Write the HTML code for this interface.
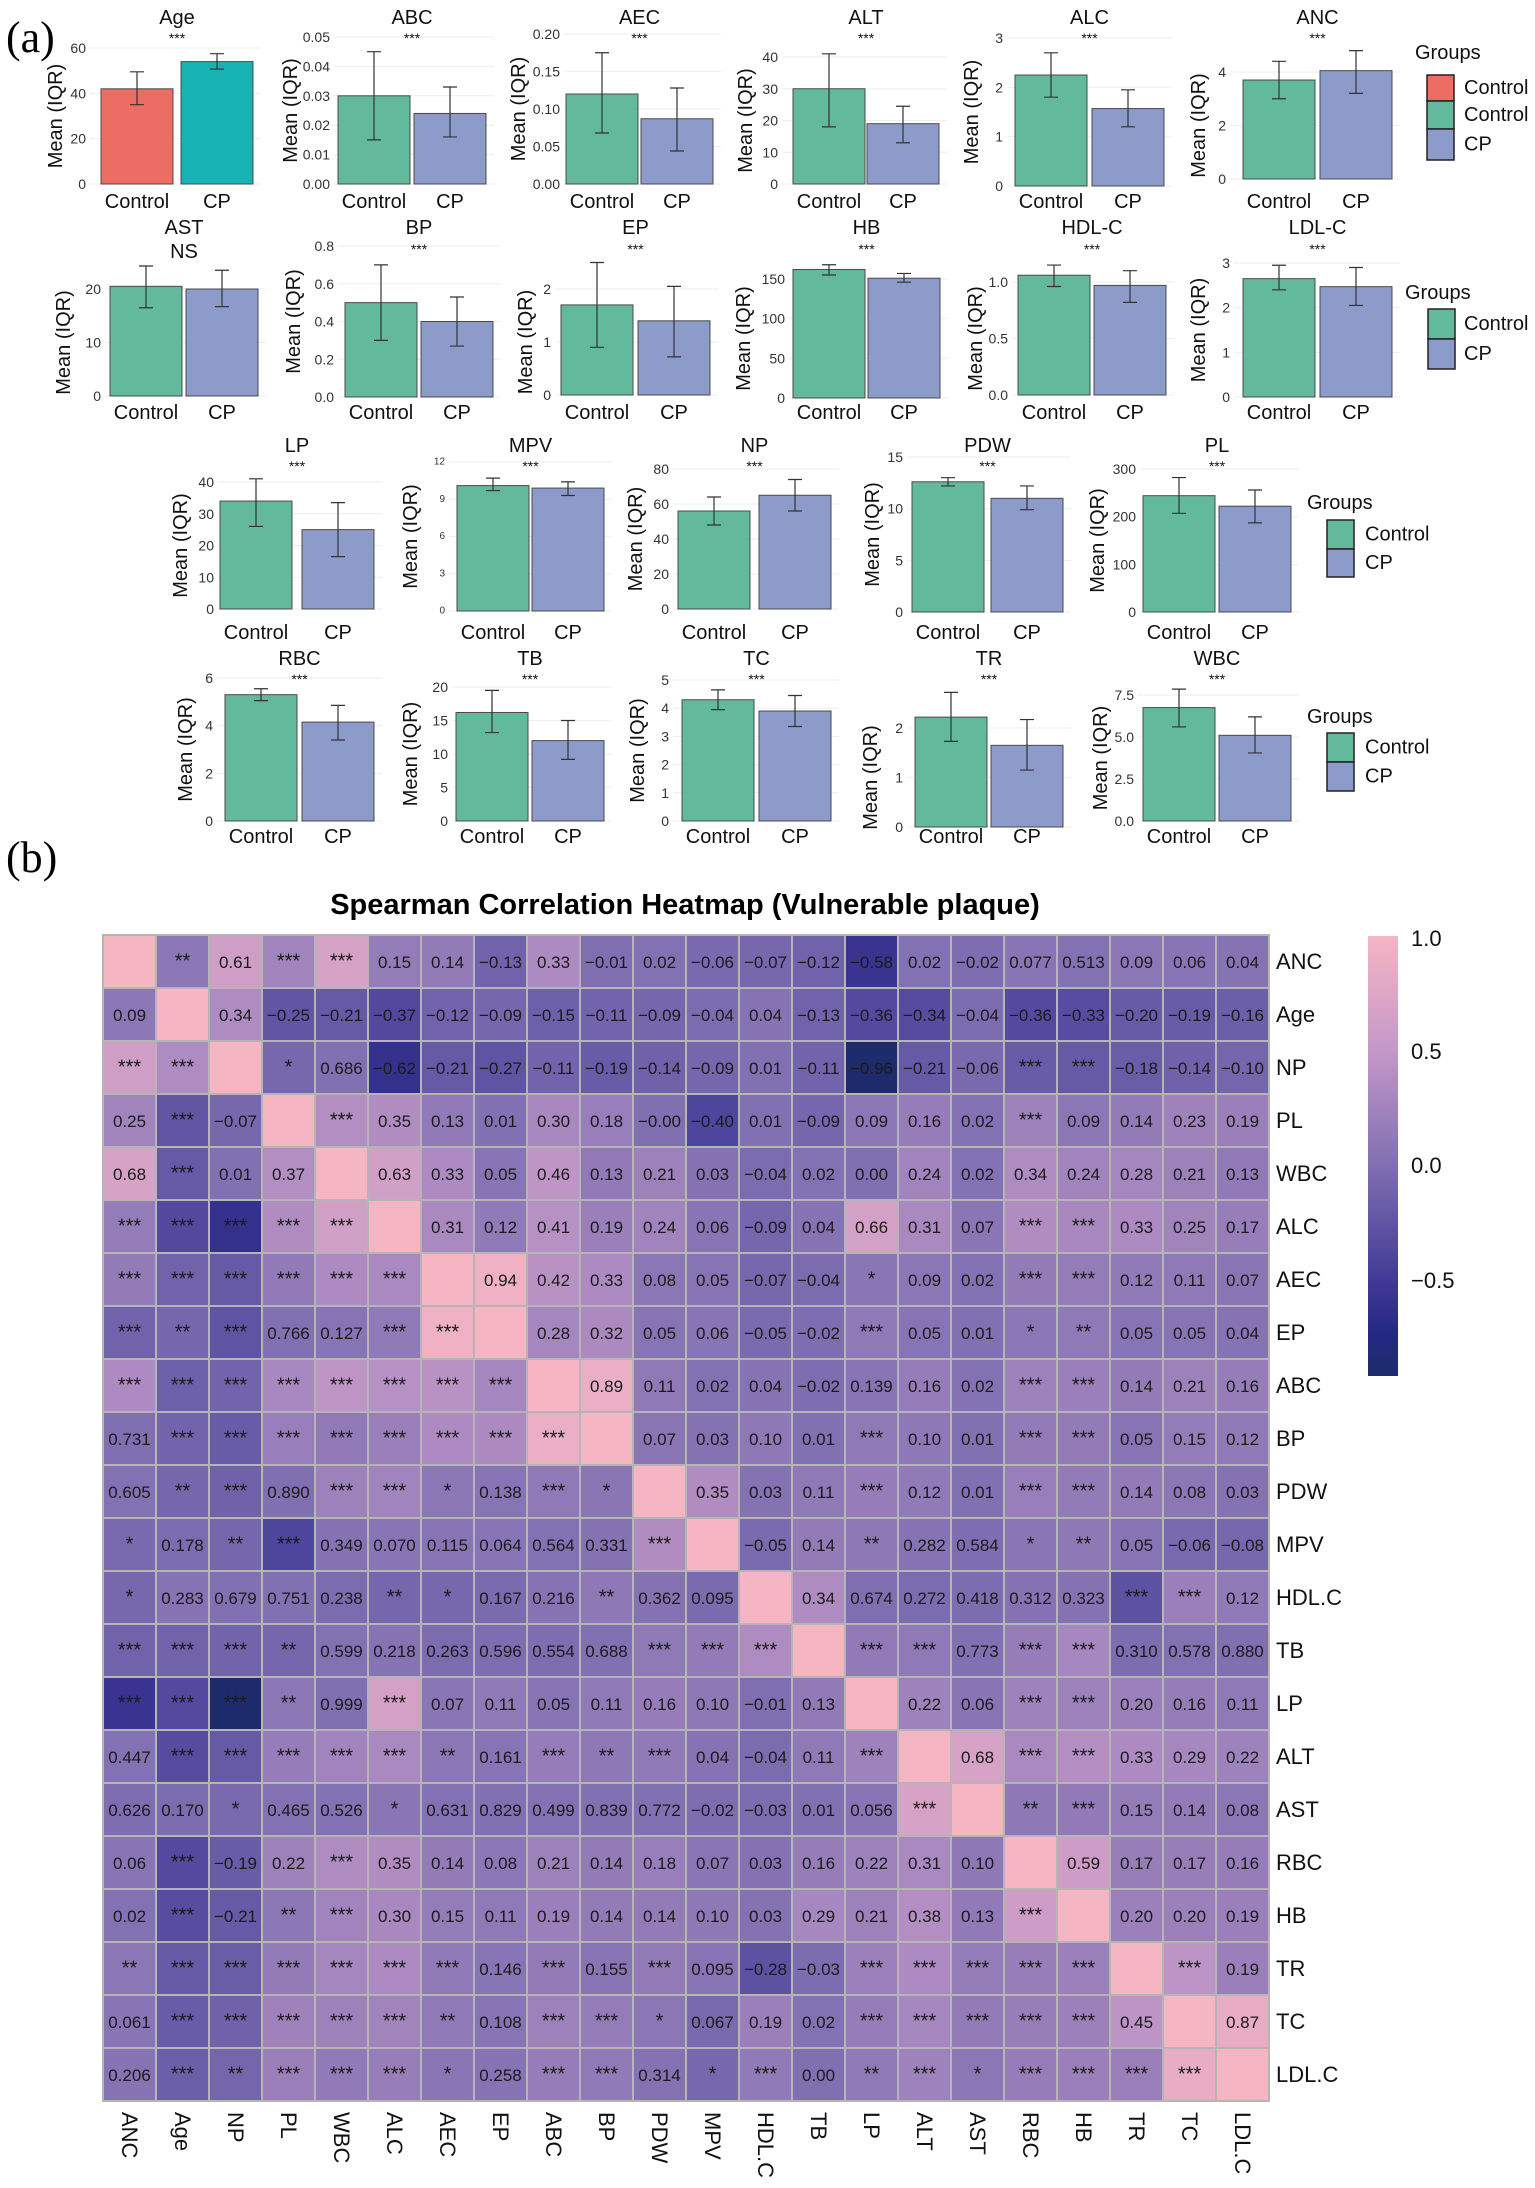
<!DOCTYPE html>
<html><head><meta charset="utf-8"><title>Panels</title>
<style>
html,body{margin:0;padding:0;background:#fff;}
svg{display:block;font-family:"Liberation Sans",Arial,sans-serif;}
</style></head>
<body>
<svg id="fig" width="1535" height="2188" viewBox="0 0 1535 2188" xmlns="http://www.w3.org/2000/svg">
<rect x="0" y="0" width="1535" height="2188" fill="#fff"/>
<text x="6" y="52" font-family="Liberation Serif, serif" font-size="44">(a)</text>
<text x="6" y="872" font-family="Liberation Serif, serif" font-size="44">(b)</text>
<text x="685" y="914" text-anchor="middle" font-weight="bold" font-size="29">Spearman Correlation Heatmap (Vulnerable plaque)</text>
<g id="barPanels"></g>
<g id="legends"></g>
<g id="heat"></g>
<defs>
<linearGradient id="cbGrad" x1="0" y1="0" x2="0" y2="1">
<stop offset="0" stop-color="#f5b5c3"/>
<stop offset="0.26" stop-color="#c498c8"/>
<stop offset="0.52" stop-color="#8070b2"/>
<stop offset="0.78" stop-color="#423a96"/>
<stop offset="0.91" stop-color="#232882"/>
<stop offset="1" stop-color="#1e2c6a"/>
</linearGradient>
</defs>
<rect x="1368" y="936" width="30" height="440" fill="url(#cbGrad)"/>
<g font-size="22" fill="#111">
<text x="1411" y="946">1.0</text>
<text x="1411" y="1059">0.5</text>
<text x="1411" y="1173">0.0</text>
<text x="1411" y="1288">−0.5</text>
</g>
</svg>
<script>
// ---------- Panel (a) data ----------
const panelNames = ["Age","ABC","AEC","ALT","ALC","ANC","AST","BP","EP","HB","HDL-C","LDL-C","LP","MPV","NP","PDW","PL","RBC","TB","TC","TR","WBC"];
const ctrlMeans = [42,0.030,0.12,30,2.25,3.7,20.5,0.50,1.7,162,1.06,2.65,34,10.1,56,12.6,244,5.3,16.2,4.3,2.22,6.75];
const ctrlLo = [35,0.015,0.068,18,1.8,3.0,16.5,0.30,0.9,155,0.96,2.4,26,9.7,48,12.2,207,5.05,13.2,3.95,1.73,5.6];
const ctrlHi = [49.5,0.045,0.175,41,2.7,4.4,24.3,0.70,2.5,168,1.15,2.95,41,10.7,64,13.0,282,5.55,19.5,4.65,2.72,7.85];
const cpMeans = [54,0.024,0.087,19,1.57,4.05,20,0.40,1.4,151,0.97,2.47,25,9.9,65,11.0,222,4.15,12,3.9,1.65,5.1];
const cpLo = [50.7,0.016,0.044,13,1.2,3.2,16.7,0.27,0.72,146,0.82,2.05,16.5,9.3,56,9.9,187,3.4,9.2,3.35,1.15,4.05];
const cpHi = [57.5,0.033,0.128,24.5,1.95,4.8,23.5,0.53,2.05,157,1.1,2.9,33.5,10.4,74,12.2,256,4.85,15,4.45,2.17,6.2];
const sigLabels = ["***","***","***","***","***","***","NS","***","***","***","***","***","***","***","***","***","***","***","***","***","***","***"];
const groupLabels = ["Control","CP"];
const tickLabels = [
 ["0","20","40","60"],["0.00","0.01","0.02","0.03","0.04","0.05"],["0.00","0.05","0.10","0.15","0.20"],
 ["0","10","20","30","40"],["0","1","2","3"],["0","2","4"],
 ["0","10","20"],["0.0","0.2","0.4","0.6","0.8"],["0","1","2"],["0","50","100","150"],["0.0","0.5","1.0"],["0","1","2","3"],
 ["0","10","20","30","40"],["0","3","6","9","12"],["0","20","40","60","80"],["0","5","10","15"],["0","100","200","300"],
 ["0","2","4","6"],["0","5","10","15","20"],["0","1","2","3","4","5"],["0","1","2"],["0.0","2.5","5.0","7.5"]];

// layout (pixel geometry): [ctrlX, cpX, tickRight, yTitleX, y0px, topTickPx, row]
const layout = [
 [101,181,86,56,184,48,0],[338,414,330,291,184,37,0],[566,641,560,519,184,34,0],[793,867,778,746,184,57,0],[1015,1092,1003,972,186,38,0],[1243,1320,1226,1199,179,72,0],
 [110,186,101,64,396,289,1],[345,421,334,294,397,246,1],[561,638,551,526,395,289,1],[793,868,785,744,398,279,1],[1018,1094,1008,976,395,282,1],[1243,1320,1230,1199,397,263,1],
 [220,302,214,181,609,482,2],[457,532,445,411,611,462,2],[678,759,669,636,609,469,2],[912,991,903,873,612,457,2],[1143,1219,1136,1098,612,469,2],
 [225,302,213,186,821,678,3],[456,532,448,411,821,687,3],[682,759,669,638,821,680,3],[915,991,903,871,827,728,3],[1143,1219,1134,1101,821,695,3]];
const rowTitleY = [18,228,446,659];
const rowSigY = [38,249,466,679];
const rowXlabY = [202,413,633,837];
const BW = 72;
const NS = "http://www.w3.org/2000/svg";
function mk(tag, attrs, parent){const e=document.createElementNS(NS,tag);for(const k in attrs)e.setAttribute(k,attrs[k]);parent.appendChild(e);return e;}

const bp = document.getElementById('barPanels');
panelNames.forEach((name,i)=>{
  const L = layout[i];
  const [cx,px,tr,ytx,y0,topPx,row] = L;
  const ticks = tickLabels[i];
  const topVal = parseFloat(ticks[ticks.length-1]);
  const yScale = v => y0 - v/topVal*(y0-topPx);
  const g = mk('g',{},bp);
  
  
  const small = name==="MPV";
  ticks.forEach(t=>{
    const y = yScale(parseFloat(t));
    const gl = mk('line',{x1:tr+4,x2:px+BW+8,y1:y,y2:y,stroke:'#eeeeee','stroke-width':1},g);
    
    
    const tt = mk('text',{x:tr,y:y,'text-anchor':'end','dominant-baseline':'central','font-size':small?10:14,fill:'#333'},g);
    tt.textContent = t;
    
    
  });
  const isAge = i===0;
  const cCol = isAge ? '#ec6d64' : '#62b99b';
  const pCol = isAge ? '#17b3b4' : '#8c9bca';
  const vals = [[ctrlMeans[i],ctrlLo[i],ctrlHi[i],cx,cCol],[cpMeans[i],cpLo[i],cpHi[i],px,pCol]];
  vals.forEach((v,k)=>{
    const [m,lo,hi,x,col] = v;
    const r = mk('rect',{x:x,y:yScale(m),width:BW,height:y0-yScale(m),fill:col,stroke:'#4a4a4a','stroke-width':1},g);
    
    
    const ex = x+BW/2;
    const eb = mk('path',{d:`M${ex-7},${yScale(hi)}H${ex+7}M${ex},${yScale(hi)}V${yScale(lo)}M${ex-7},${yScale(lo)}H${ex+7}`,stroke:'#333','stroke-width':1.2,fill:'none'},g);
    
    
    const xl = mk('text',{x:ex,y:rowXlabY[row],'text-anchor':'middle','dominant-baseline':'central','font-size':20,fill:'#111'},g);
    xl.textContent = groupLabels[k];
    
    
  });
  const midX = (cx+px+BW)/2;
  const ti = mk('text',{x:midX,y:rowTitleY[row],'text-anchor':'middle','dominant-baseline':'central','font-size':20,fill:'#111'},g);
  ti.textContent = name;
  
  
  const sgY = sigLabels[i]==="NS" ? rowSigY[row]+3 : rowSigY[row];
  const sg = mk('text',{x:midX,y:sgY,'text-anchor':'middle','dominant-baseline':'central','font-size':sigLabels[i]==="NS"?20:14,fill:'#111'},g);
  sg.textContent = sigLabels[i];
  
  
  const ymid = (y0+topPx)/2;
  const yt = mk('text',{x:ytx,y:ymid,'text-anchor':'middle','dominant-baseline':'central','font-size':20,fill:'#111',transform:`rotate(-90 ${ytx} ${ymid})`},g);
  yt.textContent = 'Mean (IQR)';
  
  
});

// legends
const lg = document.getElementById('legends');
const legendSpecs = [
 {gx:1415,gy:53,sx:1427,lx:1464,ys:[75,101,129,160],cols:['#ec6d64','#62b99b','#8c9bca'],labs:['Control','Control','CP']},
 {gx:1405,gy:293,sx:1428,lx:1464,ys:[309,339,369],cols:['#62b99b','#8c9bca'],labs:['Control','CP']},
 {gx:1307,gy:503,sx:1327,lx:1365,ys:[520,549,577],cols:['#62b99b','#8c9bca'],labs:['Control','CP']},
 {gx:1307,gy:717,sx:1327,lx:1365,ys:[733,762,791],cols:['#62b99b','#8c9bca'],labs:['Control','CP']}];
legendSpecs.forEach(s=>{
  const g = mk('g',{},lg);
  
  
  const t = mk('text',{x:s.gx,y:s.gy,'dominant-baseline':'central','font-size':20,fill:'#111'},g);
  t.textContent = 'Groups';
  
  
  s.cols.forEach((c,k)=>{
    const r = mk('rect',{x:s.sx,y:s.ys[k],width:27,height:s.ys[k+1]-s.ys[k],fill:c,stroke:'#222','stroke-width':1.5},g);
    
    
    const l = mk('text',{x:s.lx,y:(s.ys[k]+s.ys[k+1])/2,'dominant-baseline':'central','font-size':20,fill:'#111'},g);
    l.textContent = s.labs[k];
    
    
  });
});

// ---------- Panel (b) heatmap data ----------
const varNames = ["ANC","Age","NP","PL","WBC","ALC","AEC","EP","ABC","BP","PDW","MPV","HDL.C","TB","LP","ALT","AST","RBC","HB","TR","TC","LDL.C"];
const rowANC = ["","**","0.61","***","***","0.15","0.14","-0.13","0.33","-0.01","0.02","-0.06","-0.07","-0.12","-0.58","0.02","-0.02","0.077","0.513","0.09","0.06","0.04"];
const rowAge = ["0.09","","0.34","-0.25","-0.21","-0.37","-0.12","-0.09","-0.15","-0.11","-0.09","-0.04","0.04","-0.13","-0.36","-0.34","-0.04","-0.36","-0.33","-0.20","-0.19","-0.16"];
const rowNP = ["***","***","","*","0.686","-0.62","-0.21","-0.27","-0.11","-0.19","-0.14","-0.09","0.01","-0.11","-0.96","-0.21","-0.06","***","***","-0.18","-0.14","-0.10"];
const rowPL = ["0.25","***","-0.07","","***","0.35","0.13","0.01","0.30","0.18","-0.00","-0.40","0.01","-0.09","0.09","0.16","0.02","***","0.09","0.14","0.23","0.19"];
const rowWBC = ["0.68","***","0.01","0.37","","0.63","0.33","0.05","0.46","0.13","0.21","0.03","-0.04","0.02","0.00","0.24","0.02","0.34","0.24","0.28","0.21","0.13"];
const rowALC = ["***","***","***","***","***","","0.31","0.12","0.41","0.19","0.24","0.06","-0.09","0.04","0.66","0.31","0.07","***","***","0.33","0.25","0.17"];
const rowAEC = ["***","***","***","***","***","***","","0.94","0.42","0.33","0.08","0.05","-0.07","-0.04","*","0.09","0.02","***","***","0.12","0.11","0.07"];
const rowEP = ["***","**","***","0.766","0.127","***","***","","0.28","0.32","0.05","0.06","-0.05","-0.02","***","0.05","0.01","*","**","0.05","0.05","0.04"];
const rowABC = ["***","***","***","***","***","***","***","***","","0.89","0.11","0.02","0.04","-0.02","0.139","0.16","0.02","***","***","0.14","0.21","0.16"];
const rowBP = ["0.731","***","***","***","***","***","***","***","***","","0.07","0.03","0.10","0.01","***","0.10","0.01","***","***","0.05","0.15","0.12"];
const rowPDW = ["0.605","**","***","0.890","***","***","*","0.138","***","*","","0.35","0.03","0.11","***","0.12","0.01","***","***","0.14","0.08","0.03"];
const rowMPV = ["*","0.178","**","***","0.349","0.070","0.115","0.064","0.564","0.331","***","","-0.05","0.14","**","0.282","0.584","*","**","0.05","-0.06","-0.08"];
const rowHDL = ["*","0.283","0.679","0.751","0.238","**","*","0.167","0.216","**","0.362","0.095","","0.34","0.674","0.272","0.418","0.312","0.323","***","***","0.12"];
const rowTB = ["***","***","***","**","0.599","0.218","0.263","0.596","0.554","0.688","***","***","***","","***","***","0.773","***","***","0.310","0.578","0.880"];
const rowLP = ["***","***","***","**","0.999","***","0.07","0.11","0.05","0.11","0.16","0.10","-0.01","0.13","","0.22","0.06","***","***","0.20","0.16","0.11"];
const rowALT = ["0.447","***","***","***","***","***","**","0.161","***","**","***","0.04","-0.04","0.11","***","","0.68","***","***","0.33","0.29","0.22"];
const rowAST = ["0.626","0.170","*","0.465","0.526","*","0.631","0.829","0.499","0.839","0.772","-0.02","-0.03","0.01","0.056","***","","**","***","0.15","0.14","0.08"];
const rowRBC = ["0.06","***","-0.19","0.22","***","0.35","0.14","0.08","0.21","0.14","0.18","0.07","0.03","0.16","0.22","0.31","0.10","","0.59","0.17","0.17","0.16"];
const rowHB = ["0.02","***","-0.21","**","***","0.30","0.15","0.11","0.19","0.14","0.14","0.10","0.03","0.29","0.21","0.38","0.13","***","","0.20","0.20","0.19"];
const rowTR = ["**","***","***","***","***","***","***","0.146","***","0.155","***","0.095","-0.28","-0.03","***","***","***","***","***","","***","0.19"];
const rowTC = ["0.061","***","***","***","***","***","**","0.108","***","***","*","0.067","0.19","0.02","***","***","***","***","***","0.45","","0.87"];
const rowLDL = ["0.206","***","**","***","***","***","*","0.258","***","***","0.314","*","***","0.00","**","***","*","***","***","***","***",""];
const cellLabels = [rowANC,rowAge,rowNP,rowPL,rowWBC,rowALC,rowAEC,rowEP,rowABC,rowBP,rowPDW,rowMPV,rowHDL,rowTB,rowLP,rowALT,rowAST,rowRBC,rowHB,rowTR,rowTC,rowLDL];

const HX = 103, HY = 935, CS = 53.0;
function isR(s){ if(!/^-?\d+\.\d+$/.test(s)) return false; return s.split('.')[1].length<=2; }
function rVal(i,j){
  if(i===j) return 1;
  const a = cellLabels[i][j], b = cellLabels[j][i];
  if(isR(a)) return parseFloat(a);
  if(isR(b)) return parseFloat(b);
  return 0;
}
const cStops = [[-1,[28,44,104]],[-0.75,[36,40,132]],[-0.5,[66,58,150]],[0,[128,112,178]],[0.5,[196,152,200]],[1,[245,181,195]]];
function colorFor(v){
  for(let k=0;k<cStops.length-1;k++){
    const [v0,c0]=cStops[k],[v1,c1]=cStops[k+1];
    if(v<=v1){const t=Math.max(0,(v-v0)/(v1-v0));return `rgb(${c0.map((c,q)=>Math.round(c+(c1[q]-c)*t)).join(',')})`;}
  }
  return 'rgb(245,181,195)';
}
const hg = document.getElementById('heat');
for(let i=0;i<varNames.length;i++){
  for(let j=0;j<varNames.length;j++){
    const x = HX + j*CS, y = HY + i*CS;
    const r = mk('rect',{x:x,y:y,width:CS,height:CS,fill:colorFor(rVal(i,j)),stroke:'#b5b5b5','stroke-width':2},hg);
    
    
    const lab = cellLabels[i][j];
    if(lab){
      const star = lab.indexOf('*')>=0;
      const t = mk('text',{x:x+CS/2,y:y+CS/2+(star?0:1),'text-anchor':'middle','dominant-baseline':'central','font-size':star?20:17,fill:'#1a1a1a'},hg);
      t.textContent = lab.replace('-','−');
      
      
    }
  }
  const rl = mk('text',{x:1276,y:HY+i*CS+CS/2,'dominant-baseline':'central','font-size':22,fill:'#111'},hg);
  rl.textContent = varNames[i];
  
  
  const cx = HX+i*CS+CS/2, cy = 2112;
  const cl = mk('text',{x:cx,y:cy,'dominant-baseline':'central','font-size':22,fill:'#111',transform:`rotate(90 ${cx} ${cy})`},hg);
  cl.textContent = varNames[i];
  
  
}
</script>
</body></html>
